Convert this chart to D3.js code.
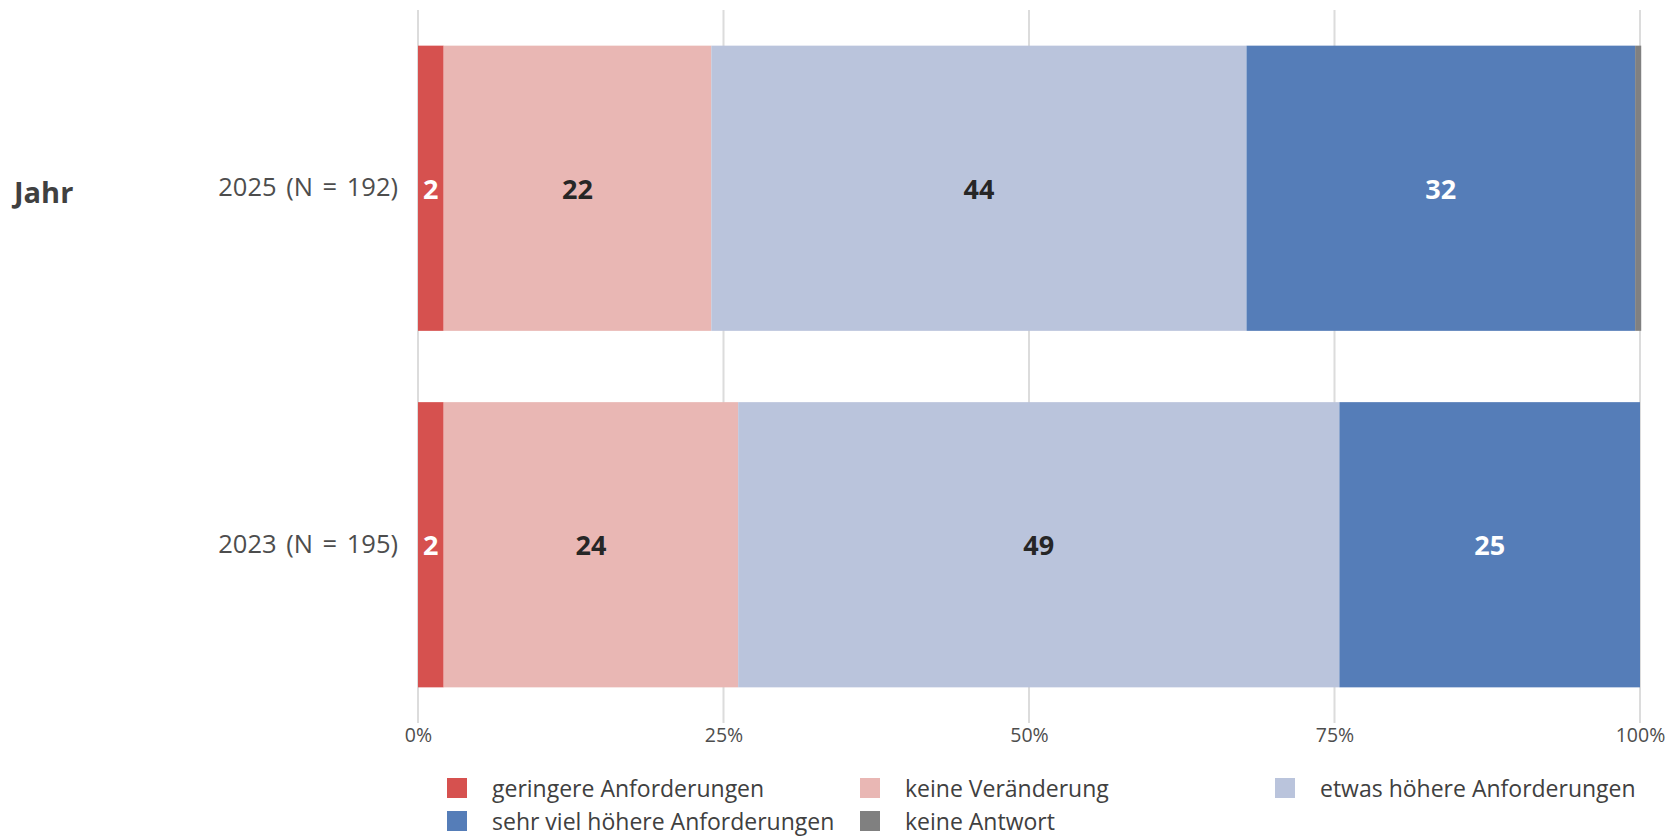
<!DOCTYPE html>
<html lang="de">
<head>
<meta charset="utf-8">
<title>Anforderungen nach Jahr</title>
<script src="https://cdn.jsdelivr.net/npm/d3@7"></script>
<style>
  html, body { margin: 0; padding: 0; background: #ffffff; }
  svg { display: block; font-family: "Open Sans", "Noto Sans", sans-serif; }
</style>
</head>
<body>
<svg id="chart" width="1680" height="840"></svg>
<script>
// Survey years (rows of the stacked bar chart)
const years = ["2025 (N = 192)", "2023 (N = 195)"];

// Answer categories in stacking order
const categories = [
  "geringere Anforderungen",
  "keine Veränderung",
  "etwas höhere Anforderungen",
  "sehr viel höhere Anforderungen",
  "keine Antwort"
];

// Share of answers per category in percent, one array per year
const values2025 = [2.1, 21.9, 43.8, 31.8, 0.5];
const values2023 = [2.1, 24.1, 49.2, 24.6, 0.0];

const xTicks = [0, 25, 50, 75, 100];
const xTickLabels = ["0%", "25%", "50%", "75%", "100%"];

const colors = ["#d6514f", "#e9b7b4", "#bac4dc", "#557db8", "#808080"];
const labelColors = ["#ffffff", "#262626", "#262626", "#ffffff", "#ffffff"];

const rows = [
  { year: years[0], values: values2025 },
  { year: years[1], values: values2023 }
];

const svg = d3.select("#chart");

const x = d3.scaleLinear().domain([0, 100]).range([418, 1640]);
const y = d3.scaleBand().domain(years).range([10, 723])
  .paddingInner(0.2).paddingOuter(0.1);

// Vertical grid lines
svg.append("g")
  .selectAll("line")
  .data(xTicks)
  .join("line")
  .attr("x1", d => x(d)).attr("x2", d => x(d))
  .attr("y1", 10).attr("y2", 723)
  .attr("stroke", "#dcdcdc")
  .attr("stroke-width", 2);

// Stacked segments
const stack = d3.stack()
  .keys(d3.range(categories.length))
  .value((row, k) => row.values[k]);
const series = stack(rows);

const fmt = d3.format(".0f");

series.forEach((s, k) => {
  const g = svg.append("g");
  g.selectAll("rect")
    .data(s)
    .join("rect")
    .attr("x", d => x(d[0]))
    .attr("y", d => y(d.data.year))
    .attr("width", d => Math.max(0, x(d[1]) - x(d[0])))
    .attr("height", y.bandwidth())
    .attr("fill", colors[k]);

  g.selectAll("text")
    .data(s.filter(d => d[1] - d[0] >= 1))
    .join("text")
    .attr("x", d => (x(d[0]) + x(d[1])) / 2)
    .attr("y", d => y(d.data.year) + y.bandwidth() / 2)
    .attr("text-anchor", "middle")
    .attr("dominant-baseline", "central")
    .attr("font-size", 27)
    .attr("font-weight", 700)
    .attr("fill", labelColors[k])
    .text(d => fmt(d[1] - d[0]));
});

// X axis tick labels
const xAxis = d3.axisBottom(x)
  .tickValues(xTicks)
  .tickFormat((d, i) => xTickLabels[i])
  .tickSize(0)
  .tickPadding(0);
const xg = svg.append("g").attr("transform", "translate(0,728)").call(xAxis);
xg.select(".domain").remove();
xg.selectAll("text")
  .attr("font-family", "Open Sans, Noto Sans, sans-serif")
  .attr("font-size", 19.5)
  .attr("fill", "#4d4d4d");

// Y axis labels
const yAxis = d3.axisLeft(y).tickSize(0).tickPadding(0);
const yg = svg.append("g").attr("transform", "translate(398,0)").call(yAxis);
yg.select(".domain").remove();
yg.selectAll("text")
  .attr("font-family", "Open Sans, Noto Sans, sans-serif")
  .attr("font-size", 25.5)
  .attr("word-spacing", 3)
  .attr("fill", "#4d4d4d");

// Facet title on the left
svg.append("text")
  .attr("x", 14)
  .attr("y", 191)
  .attr("dominant-baseline", "central")
  .attr("font-size", 29)
  .attr("font-weight", 700)
  .attr("fill", "#404040")
  .text("Jahr");

// Legend: three columns, filled row by row
const legendCols = [447, 860, 1275];
const legendRows = [778, 811];
const legend = svg.append("g")
  .selectAll("g")
  .data(categories)
  .join("g")
  .attr("transform", (d, i) =>
    `translate(${legendCols[i % 3]},${legendRows[Math.floor(i / 3)]})`);

legend.append("rect")
  .attr("width", 20).attr("height", 20)
  .attr("fill", (d, i) => colors[i]);

legend.append("text")
  .attr("x", 45)
  .attr("y", 10)
  .attr("dominant-baseline", "central")
  .attr("font-size", 23)
  .attr("fill", "#404040")
  .text(d => d);
</script>
</body>
</html>
